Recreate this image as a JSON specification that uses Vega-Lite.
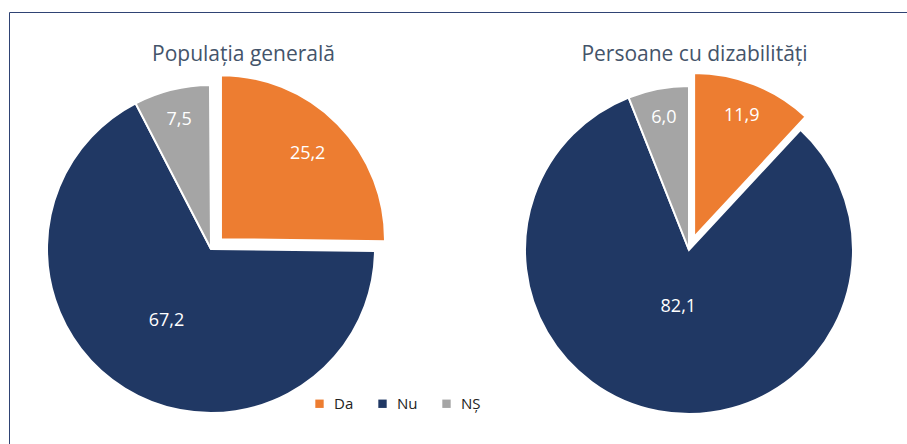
{
  "$schema": "https://vega.github.io/schema/vega-lite/v6.json",
  "width": 898,
  "height": 432,
  "autosize": {"type": "none"},
  "padding": {"left": 9, "top": 12, "right": 0, "bottom": 0},
  "background": "white",
  "config": {
    "view": {"stroke": "#2f4374", "strokeWidth": 1},
    "font": "Open Sans",
    "locale": {"number": {"decimal": ",", "thousands": ".", "grouping": [3], "currency": ["", ""]}}
  },
  "data": {"values": [
    {"group": "Populația generală", "cat": "Da", "value": 25.2},
    {"group": "Populația generală", "cat": "Nu", "value": 67.2},
    {"group": "Populația generală", "cat": "NȘ", "value": 7.5},
    {"group": "Persoane cu dizabilități", "cat": "Da", "value": 11.9},
    {"group": "Persoane cu dizabilități", "cat": "Nu", "value": 82.1},
    {"group": "Persoane cu dizabilități", "cat": "NȘ", "value": 6.0}
  ]},
  "transform": [
    {"stack": "value", "groupby": ["group"], "sort": [{"field": "cat", "order": "ascending"}], "as": ["v0", "v1"]}
  ],
  "encoding": {
    "x": {
      "field": "group", "type": "nominal",
      "sort": ["Populația generală", "Persoane cu dizabilități"],
      "scale": {"type": "point", "range": [202, 680], "padding": 0},
      "axis": {
        "orient": "top", "offset": -49, "title": null, "domain": false, "ticks": false, "grid": false,
        "labelPadding": 1, "labelBaseline": "alphabetic", "labelFontSize": 21, "labelColor": "#44546a",
        "labelAngle": 0, "labelFont": "Open Sans", "labelLimit": 0,
        "labelOffset": {"expr": "datum.index < 0.5 ? 32 : 5"}
      }
    },
    "y": {
      "field": "group", "type": "nominal",
      "sort": ["Populația generală", "Persoane cu dizabilități"],
      "scale": {"type": "point", "range": [237, 238], "padding": 0},
      "axis": null
    }
  },
  "layer": [
    {
      "mark": {
        "type": "arc", "outerRadius": 164, "stroke": "white", "strokeWidth": 2,
        "xOffset": {"expr": "datum.cat === 'Da' ? 14*sin(PI*(datum.v0+datum.v1)/100) : 0"},
        "yOffset": {"expr": "datum.cat === 'Da' ? -14*cos(PI*(datum.v0+datum.v1)/100) : 0"}
      },
      "encoding": {
        "theta": {"field": "v0", "type": "quantitative", "stack": null, "scale": {"domain": [0, 100], "zero": true, "nice": false}},
        "theta2": {"field": "v1"},
        "color": {
          "field": "cat", "type": "nominal",
          "scale": {"domain": ["Da", "Nu", "NȘ"], "range": ["#ed7d31", "#203864", "#a5a5a5"]},
          "legend": {
            "orient": "none", "legendX": 303, "legendY": 384, "direction": "horizontal", "title": null,
            "symbolType": "square", "symbolSize": 70, "symbolStrokeWidth": 0, "labelFontSize": 15,
            "labelColor": "#222222", "labelFont": "Open Sans", "columnPadding": 21, "labelOffset": 7
          }
        }
      }
    },
    {
      "mark": {
        "type": "text", "fontSize": 18, "color": "white",
        "thetaOffset": {"expr": "PI*(datum.v1-datum.v0)/100"},
        "xOffset": {"expr": "datum.cat === 'Da' ? 14*sin(PI*(datum.v0+datum.v1)/100) : 0"},
        "yOffset": {"expr": "datum.cat === 'Da' ? -14*cos(PI*(datum.v0+datum.v1)/100) : 0"}
      },
      "encoding": {
        "theta": {"field": "v0", "type": "quantitative", "stack": null},
        "text": {"field": "value", "type": "quantitative", "format": ".1f"},
        "radius": {"field": "value", "type": "quantitative", "scale": {"type": "linear", "domain": [0, 25, 67, 82], "range": [138, 122, 85, 58], "zero": false, "nice": false}}
      }
    }
  ]
}
